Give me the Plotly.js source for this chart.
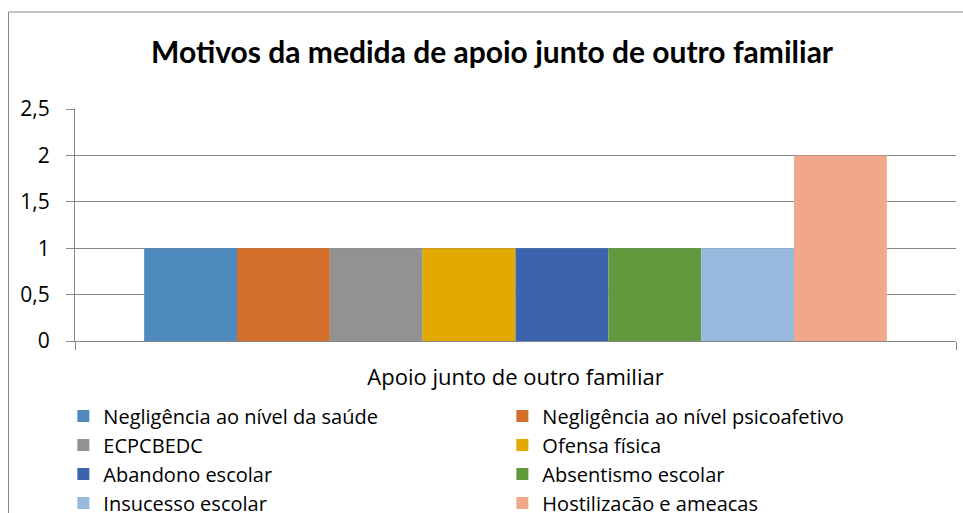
<!DOCTYPE html>
<html>
<head>
<meta charset="utf-8">
<script src="https://cdn.plot.ly/plotly-3.0.1.min.js"></script>
<style>html,body{margin:0;padding:0;background:#fff;}#chart{width:963px;height:513px;}</style>
</head>
<body>
<div id="chart"></div>
<script>
const categories = ["Apoio junto de outro familiar"];
const seriesNames = [
  "Negligência ao nível da saúde",
  "Negligência ao nível psicoafetivo",
  "ECPCBEDC",
  "Ofensa física",
  "Abandono escolar",
  "Absentismo escolar",
  "Insucesso escolar",
  "Hostilizacão e ameacas"
];
const seriesValues = [1, 1, 1, 1, 1, 1, 1, 2];
const seriesColors = ["#4F8ABE", "#D36F2B", "#929292", "#E2A900", "#3C64AD", "#63993D", "#98B9DE", "#F1A78A"];
const yTicks = [0, 0.5, 1, 1.5, 2, 2.5];

const TITLE_FONT = "Lato, 'Open Sans', sans-serif";
const FONT = "'Open Sans', Lato, sans-serif";
const data = seriesNames.map((name, i) => ({
  type: "bar",
  name: name,
  x: categories,
  y: [seriesValues[i]],
  marker: {color: seriesColors[i], line: {width: 0}},
  hoverinfo: "name+y"
}));

const layout = {
  width: 963, height: 513,
  margin: {l: 75, r: 7, t: 109, b: 172, autoexpand: false},
  paper_bgcolor: "#fff", plot_bgcolor: "#fff",
  separators: ",.",
  font: {family: FONT, color: "#000"},
  title: {
    text: "<b>Motivos da medida de apoio junto de outro familiar</b>",
    font: {family: TITLE_FONT, size: 30, color: "#000"},
    x: 0.511, xanchor: "center", xref: "container",
    y: 0.897, yanchor: "middle", yref: "container"
  },
  barmode: "group",
  bargap: 0.157,
  bargroupgap: 0,
  xaxis: {
    type: "category",
    showline: true, linecolor: "#868686", linewidth: 1,
    ticks: "outside", tickson: "boundaries", ticklen: 8, tickcolor: "#868686",
    ticklabelstandoff: 17,
    tickfont: {family: FONT, size: 22, color: "#000"},
    showgrid: false, zeroline: false, fixedrange: true
  },
  yaxis: {
    range: [0, 2.5],
    tickvals: yTicks,
    showline: true, linecolor: "#868686", linewidth: 1,
    ticks: "outside", ticklen: 8, tickcolor: "#868686",
    showgrid: true, gridcolor: "#868686", gridwidth: 1,
    zeroline: false,
    ticklabelstandoff: 12,
    tickfont: {family: FONT, size: 21, color: "#000"},
    fixedrange: true
  },
  showlegend: true,
  legend: {
    orientation: "h",
    x: -0.0132, xanchor: "left",
    y: -0.2395, yanchor: "top",
    entrywidth: 394, entrywidthmode: "pixels",
    font: {family: FONT, size: 20, color: "#000"},
    traceorder: "normal",
    bgcolor: "rgba(0,0,0,0)"
  },
  shapes: [{
    type: "rect", xref: "paper", yref: "paper",
    x0: -0.0755, x1: 1.05, y0: -1.2, y1: 1.418,
    line: {color: "#888888", width: 1}, fillcolor: "rgba(0,0,0,0)", layer: "below"
  }]
};

Plotly.newPlot("chart", data, layout, {displayModeBar: false, staticPlot: true});
</script>
</body>
</html>
